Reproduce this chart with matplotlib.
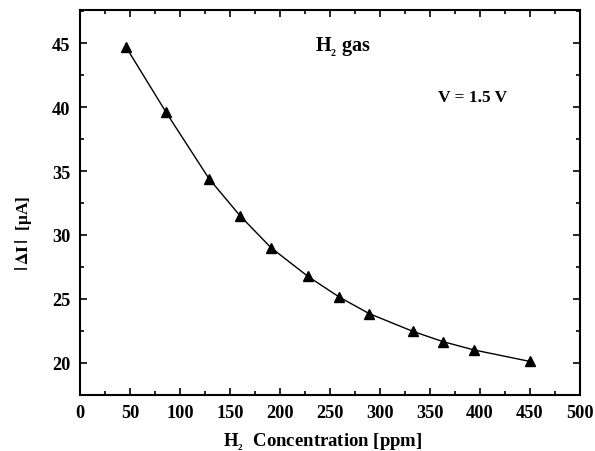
import matplotlib
matplotlib.use("Agg")
import matplotlib.pyplot as plt
from matplotlib.ticker import MultipleLocator

plt.rcParams['font.family'] = ['Liberation Serif', 'DejaVu Serif']
plt.rcParams['font.weight'] = 'bold'
plt.rcParams['mathtext.fontset'] = 'custom'
plt.rcParams['mathtext.rm'] = 'Liberation Serif:bold'
plt.rcParams['mathtext.bf'] = 'Liberation Serif:bold'
plt.rcParams['mathtext.it'] = 'Liberation Serif:bold'

concentration = [46, 86, 129, 160, 191, 228, 259, 289, 333, 363, 394, 450]
delta_i = [44.7, 39.6, 34.4, 31.5, 29.0, 26.75, 25.15, 23.85, 22.45, 21.65, 21.0, 20.1]

fig = plt.figure(figsize=(5.95, 4.52), dpi=100)
ax = fig.add_axes([0.1345, 0.1246, 0.8403, 0.8511])

ax.plot(concentration, delta_i, color='black', lw=1.0, marker='^', ms=7,
        markerfacecolor='black', markeredgecolor='black')

ax.set_xlim(0, 500)
ax.set_ylim(17.5, 47.6)
ax.xaxis.set_major_locator(MultipleLocator(50))
ax.xaxis.set_minor_locator(MultipleLocator(25))
ax.yaxis.set_major_locator(MultipleLocator(5))
ax.yaxis.set_minor_locator(MultipleLocator(2.5))
ax.tick_params(which='both', direction='in', top=True, right=True, width=1.2)
ax.tick_params(which='major', length=5, labelsize=13.2, pad=7)
ax.tick_params(which='minor', length=3)
for lab in ax.get_xticklabels() + ax.get_yticklabels():
    lab.set_fontweight('bold')
for s in ax.spines.values():
    s.set_linewidth(1.5)

ax.set_xlabel(r'H$_{_{2}}$  Concentration [ppm]', fontsize=13.5, fontweight='bold')
ax.xaxis.set_label_coords(0.485, -0.092)
ax.set_ylabel(r'$\left|\,\Delta\mathbf{I}\,\right|$  [μA]', fontsize=12.5, fontweight='bold',
              math_fontfamily='stix')
ax.yaxis.set_label_coords(-0.092, 0.423)

ax.text(0.47, 0.905, r'H$_{_{2}}$ gas', transform=ax.transAxes, fontsize=14.5, fontweight='bold',
        ha='left', va='center')
ax.text(0.716, 0.775, 'V = 1.5 V', transform=ax.transAxes, fontsize=12.5, fontweight='bold',
        ha='left', va='center')

fig.savefig('out.png', dpi=100)
